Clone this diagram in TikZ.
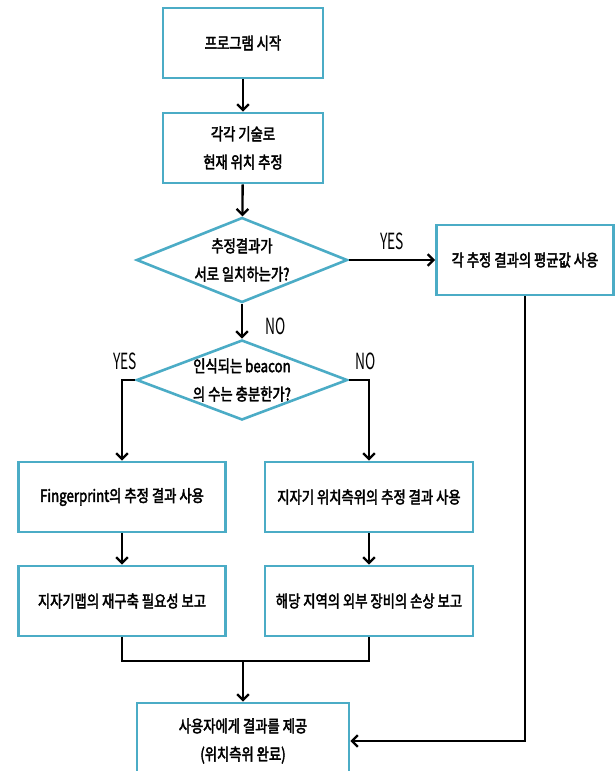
\documentclass[tikz,border=0pt]{standalone}
\usepackage{fontspec}
\setmainfont{Noto Sans CJK KR}[FakeStretch=0.8, FakeBold=2.5]
\newfontfamily\lblfont{Noto Sans CJK KR}[FakeStretch=0.62]
\usetikzlibrary{shapes.geometric,arrows.meta}
\def\pix{0.03cm}
\definecolor{boxline}{RGB}{75,172,198}
\tikzset{
  stepbox/.style = {rectangle, draw=boxline, fill=white, line width=2.2pt,
                    minimum width=#1, minimum height=70*\pix, inner sep=0pt,
                    align=center, font=\fontsize{14.2}{24}\selectfont},
  stepbox/.default = 160*\pix,
  ask/.style = {diamond, draw=boxline, fill=white, line width=2.2pt,
                minimum width=211*\pix, minimum height=#1, inner sep=0pt},
  ask/.default = 85*\pix,
  flow/.style = {line width=2pt, -{Straight Barb[length=5pt, width=10pt]}},
  link/.style = {line width=2pt},
  answer/.style = {font=\lblfont\fontsize{19}{20}\selectfont}
}
\begin{document}
\begin{tikzpicture}[x=\pix, y=-\pix]
	\clip (0,0) rectangle (616,771);
	\fill[white] (0,0) rectangle (616,771);

	% Steps
	\node[stepbox] (start) at (243,43) {프로그램 시작};
	\node[stepbox] (est) at (243,148) {각각 기술로\\현재 위치 추정};
	\node[ask, label={[align=center, font=\fontsize{14.2}{24}\selectfont]center:추정결과가\\서로 일치하는가?}] (same) at (242,260) {};
	\node[stepbox=177*\pix] (avg) at (525,260) {각 추정 결과의 평균값 사용};
	\node[ask=80*\pix, label={[align=center, font=\fontsize{14.2}{24}\selectfont]center:인식되는 beacon\\의 수는 충분한가?}] (enough) at (242,380) {};
	\node[stepbox=207*\pix] (fp) at (122,497) {Fingerprint의 추정 결과 사용};
	\node[stepbox=208*\pix] (mag) at (369,497) {지자기 위치측위의 추정 결과 사용};
	\node[stepbox=207*\pix] (rebuild) at (122,601) {지자기맵의 재구축 필요성 보고};
	\node[stepbox=208*\pix] (damage) at (369,601) {해당 지역의 외부 장비의 손상 보고};
	\node[stepbox=212*\pix, minimum height=76*\pix] (result) at (243,741) {사용자에게 결과를 제공\\(위치측위 완료)};

	% Answers
	\node[answer] (yes1) at (392,241) {YES};
	\node[answer] (no1) at (276,326) {NO};
	\node[answer] (yes2) at (125,361) {YES};
	\node[answer] (no2) at (366,361) {NO};

	% Connectors
	\coordinate (join) at (243,661);
	\draw[flow] (start) -- (est);
	\draw[flow] (est) -- (same);
	\draw[flow] (same.east) -- (avg.west);
	\draw[flow] (same.south) -- (enough.north);
	\draw[flow] (enough.west) -| (fp.north);
	\draw[flow] (enough.east) -| (mag.north);
	\draw[flow] (fp) -- (rebuild);
	\draw[flow] (mag) -- (damage);
	\draw[link] (rebuild.south) |- (join) -| (damage.south);
	\draw[flow] (join) -- (result.north);
	\draw[flow] (avg.south) |- (result.east);
\end{tikzpicture}
\end{document}
